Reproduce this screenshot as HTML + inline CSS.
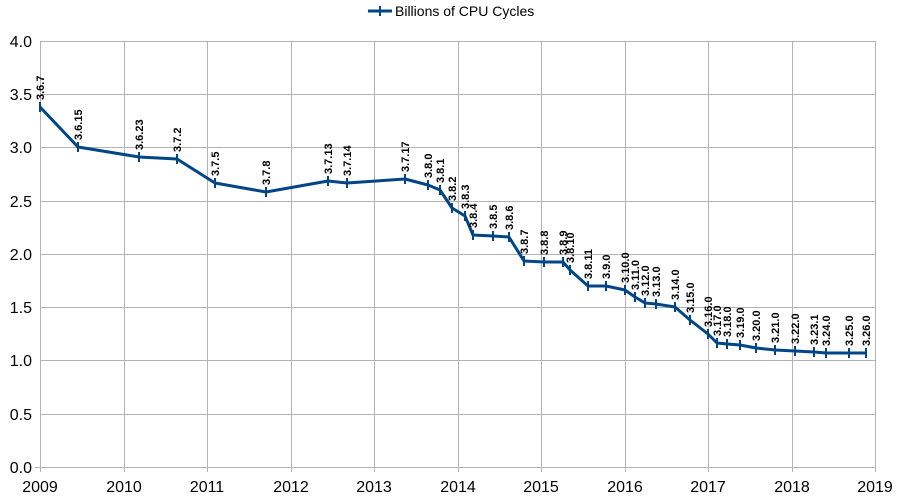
<!DOCTYPE html>
<html><head><meta charset="utf-8"><style>body{margin:0;background:#fff}svg{display:block;font-family:"Liberation Sans",sans-serif}</style></head><body>
<svg width="899" height="501" xmlns="http://www.w3.org/2000/svg">
<g stroke="#b3b3b3" stroke-width="1">
<line x1="40" y1="41.5" x2="876" y2="41.5"/><line x1="40" y1="94.5" x2="876" y2="94.5"/><line x1="40" y1="147.5" x2="876" y2="147.5"/><line x1="40" y1="201.5" x2="876" y2="201.5"/><line x1="40" y1="254.5" x2="876" y2="254.5"/><line x1="40" y1="307.5" x2="876" y2="307.5"/><line x1="40" y1="360.5" x2="876" y2="360.5"/><line x1="40" y1="414.5" x2="876" y2="414.5"/><line x1="35" y1="467.5" x2="876" y2="467.5"/>
<line x1="40.5" y1="41" x2="40.5" y2="472"/><line x1="124.5" y1="41" x2="124.5" y2="472"/><line x1="207.5" y1="41" x2="207.5" y2="472"/><line x1="291.5" y1="41" x2="291.5" y2="472"/><line x1="374.5" y1="41" x2="374.5" y2="472"/><line x1="458.5" y1="41" x2="458.5" y2="472"/><line x1="541.5" y1="41" x2="541.5" y2="472"/><line x1="625.5" y1="41" x2="625.5" y2="472"/><line x1="708.5" y1="41" x2="708.5" y2="472"/><line x1="792.5" y1="41" x2="792.5" y2="472"/><line x1="875.5" y1="41" x2="875.5" y2="472"/>
</g>
<g font-size="16" fill="#000" text-anchor="end">
<text x="32" y="47">4.0</text><text x="32" y="100">3.5</text><text x="32" y="153">3.0</text><text x="32" y="207">2.5</text><text x="32" y="260">2.0</text><text x="32" y="313">1.5</text><text x="32" y="366">1.0</text><text x="32" y="420">0.5</text><text x="32" y="473">0.0</text>
</g>
<g font-size="16" fill="#000" text-anchor="middle">
<text x="40" y="492">2009</text><text x="124" y="492">2010</text><text x="207" y="492">2011</text><text x="291" y="492">2012</text><text x="374" y="492">2013</text><text x="458" y="492">2014</text><text x="541" y="492">2015</text><text x="625" y="492">2016</text><text x="708" y="492">2017</text><text x="792" y="492">2018</text><text x="875" y="492">2019</text>
</g>
<line x1="368" y1="11" x2="392" y2="11" stroke="#004586" stroke-width="3"/><line x1="380" y1="6" x2="380" y2="16" stroke="#004586" stroke-width="2"/>
<text x="395" y="16" font-size="14">Billions of CPU Cycles</text>
<polyline fill="none" stroke="#004586" stroke-width="3" stroke-linejoin="round" points="40,107 78,147 139,157 177,159 215,183 266,192 328,181 347,183 405,179 428,185 440,190 452,208 465,216 473,235 493,236 509,237 524,261 544,262 563,262 570,270 588,286 606,286 625,290 635,297 645,303 656,304 675,307 690,320 708,334 717,343 727,344 740,345 756,348 775,350 795,351 814,352 826,353 849,353 866,353"/>
<path stroke="#004586" stroke-width="2" d="M40 102v10M78 142v10M139 152v10M177 154v10M215 178v10M266 187v10M328 176v10M347 178v10M405 174v10M428 180v10M440 185v10M452 203v10M465 211v10M473 230v10M493 231v10M509 232v10M524 256v10M544 257v10M563 257v10M570 265v10M588 281v10M606 281v10M625 285v10M635 292v10M645 298v10M656 299v10M675 302v10M690 315v10M708 329v10M717 338v10M727 339v10M740 340v10M756 343v10M775 345v10M795 346v10M814 347v10M826 348v10M849 348v10M866 348v10"/>
<g font-size="11" font-weight="bold" fill="#000">
<text transform="translate(44,100) rotate(-90)">3.6.7</text>
<text transform="translate(82,140) rotate(-90)">3.6.15</text>
<text transform="translate(143,150) rotate(-90)">3.6.23</text>
<text transform="translate(181,152) rotate(-90)">3.7.2</text>
<text transform="translate(219,176) rotate(-90)">3.7.5</text>
<text transform="translate(270,185) rotate(-90)">3.7.8</text>
<text transform="translate(332,174) rotate(-90)">3.7.13</text>
<text transform="translate(351,176) rotate(-90)">3.7.14</text>
<text transform="translate(409,172) rotate(-90)">3.7.17</text>
<text transform="translate(432,178) rotate(-90)">3.8.0</text>
<text transform="translate(444,183) rotate(-90)">3.8.1</text>
<text transform="translate(456,201) rotate(-90)">3.8.2</text>
<text transform="translate(469,209) rotate(-90)">3.8.3</text>
<text transform="translate(477,228) rotate(-90)">3.8.4</text>
<text transform="translate(497,229) rotate(-90)">3.8.5</text>
<text transform="translate(513,230) rotate(-90)">3.8.6</text>
<text transform="translate(528,254) rotate(-90)">3.8.7</text>
<text transform="translate(548,255) rotate(-90)">3.8.8</text>
<text transform="translate(567,255) rotate(-90)">3.8.9</text>
<text transform="translate(574,263) rotate(-90)">3.8.10</text>
<text transform="translate(592,279) rotate(-90)">3.8.11</text>
<text transform="translate(610,279) rotate(-90)">3.9.0</text>
<text transform="translate(629,283) rotate(-90)">3.10.0</text>
<text transform="translate(639,290) rotate(-90)">3.11.0</text>
<text transform="translate(649,296) rotate(-90)">3.12.0</text>
<text transform="translate(660,297) rotate(-90)">3.13.0</text>
<text transform="translate(679,300) rotate(-90)">3.14.0</text>
<text transform="translate(694,313) rotate(-90)">3.15.0</text>
<text transform="translate(712,327) rotate(-90)">3.16.0</text>
<text transform="translate(721,336) rotate(-90)">3.17.0</text>
<text transform="translate(731,337) rotate(-90)">3.18.0</text>
<text transform="translate(744,338) rotate(-90)">3.19.0</text>
<text transform="translate(760,341) rotate(-90)">3.20.0</text>
<text transform="translate(779,343) rotate(-90)">3.21.0</text>
<text transform="translate(799,344) rotate(-90)">3.22.0</text>
<text transform="translate(818,345) rotate(-90)">3.23.1</text>
<text transform="translate(830,346) rotate(-90)">3.24.0</text>
<text transform="translate(853,346) rotate(-90)">3.25.0</text>
<text transform="translate(870,346) rotate(-90)">3.26.0</text>
</g>
</svg>
</body></html>
